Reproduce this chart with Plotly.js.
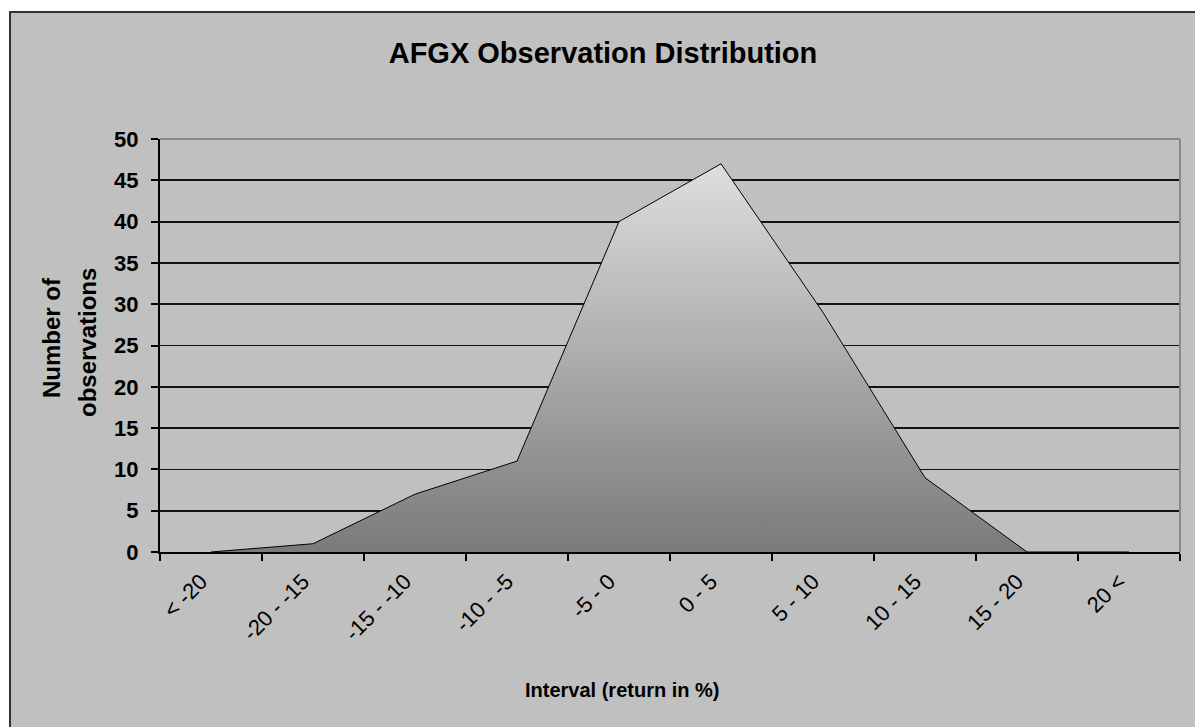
<!DOCTYPE html>
<html>
<head>
<meta charset="utf-8">
<script src="https://cdn.plot.ly/plotly-3.0.1.min.js"></script>
<style>html,body{margin:0;padding:0;background:#fff;}#chart{width:1195px;height:727px;}</style>
</head>
<body>
<div id="chart"></div>
<script>
const intervals = ["< -20", "-20 - -15", "-15 - -10", "-10 - -5", "-5 - 0", "0 - 5", "5 - 10", "10 - 15", "15 - 20", "20 <"];
const observations = [0, 1, 7, 11, 40, 47, 29, 9, 0, 0];
const yTicks = [0, 5, 10, 15, 20, 25, 30, 35, 40, 45, 50];

const W = 1195, H = 727;
const L = 160, R = 15, T = 139, B = 175;
const pw = W - L - R, ph = H - T - B;
const px = x => (x - L) / pw;
const py = y => (H - B - y) / ph;
const FONT = "Liberation Sans, Arial, sans-serif";

const trace = {
  type: 'scatter',
  mode: 'lines',
  x: intervals,
  y: observations,
  fill: 'tozeroy',
  line: {color: '#000000', width: 1},
  fillgradient: {
    type: 'vertical',
    colorscale: [[0, '#7a7a7a'], [1, '#dedede']]
  },
  hoverinfo: 'x+y'
};

const layout = {
  width: W, height: H,
  margin: {l: L, r: R, t: T, b: B, pad: 0},
  paper_bgcolor: '#ffffff',
  plot_bgcolor: '#ffffff',
  showlegend: false,
  title: {
    text: 'AFGX Observation Distribution',
    font: {family: FONT, size: 29, color: '#000', weight: 'bold'},
    xref: 'container', x: 603 / W, xanchor: 'center',
    yref: 'container', y: 1 - 53 / H, yanchor: 'middle'
  },
  xaxis: {
    type: 'category',
    range: [-0.5, intervals.length - 0.5],
    tickson: 'boundaries',
    ticks: 'outside', ticklen: 7, tickwidth: 2, tickcolor: '#000',
    showline: true, linecolor: '#000', linewidth: 2,
    showgrid: false, zeroline: false,
    tickangle: -45,
    ticklabelshift: -10,
    ticklabelstandoff: 6,
    tickfont: {family: FONT, size: 22, color: '#000'},
    fixedrange: true
  },
  yaxis: {
    range: [0, 50],
    tickvals: yTicks,
    ticks: 'outside', ticklen: 7, tickwidth: 2, tickcolor: '#000',
    showline: true, linecolor: '#000', linewidth: 2,
    showgrid: true, gridcolor: '#111', gridwidth: 1.8,
    zeroline: false,
    tickfont: {family: FONT, size: 22, color: '#000', weight: 'bold'},
    ticklabelstandoff: 8,
    fixedrange: true
  },
  shapes: [
    {type: 'rect', xref: 'paper', yref: 'paper', layer: 'below',
     x0: px(10), x1: px(1205), y0: py(740), y1: py(12),
     fillcolor: '#c0c0c0', line: {color: '#333', width: 2}},
    {type: 'line', xref: 'paper', yref: 'paper', layer: 'above',
     x0: 0, x1: 1, y0: 1, y1: 1, line: {color: '#8a8a8a', width: 2}},
    {type: 'line', xref: 'paper', yref: 'paper', layer: 'above',
     x0: 1, x1: 1, y0: 0, y1: 1, line: {color: '#8a8a8a', width: 2}}
  ],
  annotations: [
    {text: 'Number of', textangle: -90, showarrow: false,
     xref: 'paper', yref: 'paper', x: px(51), y: py(338), xanchor: 'center', yanchor: 'middle',
     font: {family: FONT, size: 24, color: '#000', weight: 'bold'}},
    {text: 'observations', textangle: -90, showarrow: false,
     xref: 'paper', yref: 'paper', x: px(87), y: py(343), xanchor: 'center', yanchor: 'middle',
     font: {family: FONT, size: 24, color: '#000', weight: 'bold'}},
    {text: 'Interval (return in %)', showarrow: false,
     xref: 'paper', yref: 'paper', x: px(622), y: py(690), xanchor: 'center', yanchor: 'middle',
     font: {family: FONT, size: 20, color: '#000', weight: 'bold'}}
  ]
};

Plotly.newPlot('chart', [trace], layout, {displayModeBar: false, staticPlot: true});
</script>
</body>
</html>
